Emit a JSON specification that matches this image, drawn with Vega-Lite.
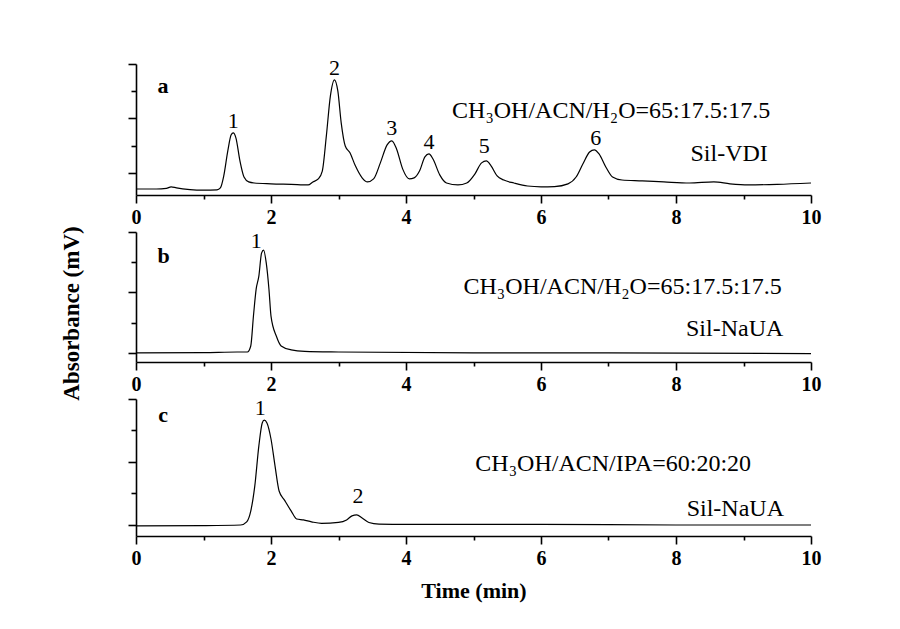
{
  "$schema": "https://vega.github.io/schema/vega-lite/v6.json",
  "background": "white",
  "padding": {"left": 59, "top": 56, "right": 5, "bottom": 5},
  "config": {
    "view": {"stroke": null},
    "font": "Liberation Serif",
    "axis": {
      "grid": false,
      "domainColor": "black",
      "domainWidth": 1.6,
      "tickColor": "black",
      "tickWidth": 1.6,
      "labelFlush": false,
      "labelFont": "Liberation Serif",
      "labelFontWeight": "bold",
      "labelFontSize": 20,
      "labelColor": "black",
      "titleFont": "Liberation Serif",
      "titleFontWeight": "bold",
      "titleFontSize": 22,
      "titleColor": "black"
    }
  },
  "datasets": {
    "a": [
      {"t":0.0,"v":-0.59},{"t":0.3,"v":-0.59},{"t":0.45,"v":-0.57},{"t":0.52,"v":-0.51},{"t":0.6,"v":-0.55},{"t":0.8,"v":-0.61},{"t":1.0,"v":-0.63},{"t":1.2,"v":-0.62},{"t":1.25,"v":-0.55},{"t":1.3,"v":-0.11},{"t":1.36,"v":0.81},{"t":1.41,"v":1.4},{"t":1.44,"v":1.47},{"t":1.48,"v":1.29},{"t":1.54,"v":0.44},{"t":1.6,"v":-0.15},{"t":1.67,"v":-0.33},{"t":1.75,"v":-0.37},{"t":2.0,"v":-0.4},{"t":2.3,"v":-0.42},{"t":2.55,"v":-0.44},{"t":2.62,"v":-0.33},{"t":2.7,"v":-0.22},{"t":2.76,"v":0.07},{"t":2.82,"v":1.36},{"t":2.88,"v":2.83},{"t":2.94,"v":3.42},{"t":2.99,"v":3.01},{"t":3.04,"v":1.84},{"t":3.1,"v":0.99},{"t":3.17,"v":0.74},{"t":3.25,"v":0.26},{"t":3.35,"v":-0.18},{"t":3.43,"v":-0.33},{"t":3.52,"v":-0.22},{"t":3.62,"v":0.37},{"t":3.72,"v":1.03},{"t":3.79,"v":1.18},{"t":3.86,"v":0.88},{"t":3.95,"v":0.15},{"t":4.05,"v":-0.22},{"t":4.12,"v":-0.18},{"t":4.2,"v":0.07},{"t":4.28,"v":0.59},{"t":4.34,"v":0.7},{"t":4.4,"v":0.51},{"t":4.5,"v":-0.07},{"t":4.6,"v":-0.37},{"t":4.77,"v":-0.44},{"t":4.9,"v":-0.37},{"t":5.02,"v":-0.04},{"t":5.12,"v":0.37},{"t":5.19,"v":0.44},{"t":5.26,"v":0.26},{"t":5.35,"v":-0.11},{"t":5.45,"v":-0.26},{"t":5.6,"v":-0.37},{"t":5.8,"v":-0.48},{"t":6.0,"v":-0.51},{"t":6.2,"v":-0.5},{"t":6.4,"v":-0.4},{"t":6.52,"v":-0.15},{"t":6.62,"v":0.33},{"t":6.72,"v":0.77},{"t":6.79,"v":0.85},{"t":6.86,"v":0.7},{"t":6.96,"v":0.22},{"t":7.06,"v":-0.15},{"t":7.2,"v":-0.26},{"t":7.5,"v":-0.29},{"t":7.82,"v":-0.33},{"t":8.2,"v":-0.37},{"t":8.56,"v":-0.33},{"t":8.8,"v":-0.4},{"t":9.07,"v":-0.44},{"t":9.5,"v":-0.42},{"t":10.0,"v":-0.37}
    ],
    "b": [
      {"t":0.0,"v":0.0},{"t":1.0,"v":0.01},{"t":1.5,"v":0.03},{"t":1.65,"v":0.03},{"t":1.7,"v":0.23},{"t":1.74,"v":1.22},{"t":1.78,"v":2.11},{"t":1.82,"v":2.54},{"t":1.86,"v":3.3},{"t":1.89,"v":3.4},{"t":1.93,"v":2.97},{"t":1.97,"v":2.1},{"t":2.0,"v":1.22},{"t":2.08,"v":0.55},{"t":2.15,"v":0.23},{"t":2.3,"v":0.1},{"t":2.5,"v":0.05},{"t":3.0,"v":0.03},{"t":5.0,"v":0.0},{"t":7.0,"v":0.0},{"t":10.0,"v":-0.02}
    ],
    "c": [
      {"t":0.0,"v":-0.03},{"t":1.0,"v":-0.02},{"t":1.55,"v":0.0},{"t":1.64,"v":0.1},{"t":1.7,"v":0.44},{"t":1.76,"v":1.24},{"t":1.82,"v":2.51},{"t":1.87,"v":3.24},{"t":1.9,"v":3.33},{"t":1.94,"v":3.24},{"t":2.0,"v":2.73},{"t":2.06,"v":1.87},{"t":2.12,"v":1.08},{"t":2.2,"v":0.79},{"t":2.3,"v":0.44},{"t":2.38,"v":0.19},{"t":2.48,"v":0.16},{"t":2.6,"v":0.1},{"t":2.75,"v":0.05},{"t":3.0,"v":0.08},{"t":3.12,"v":0.16},{"t":3.2,"v":0.29},{"t":3.27,"v":0.32},{"t":3.35,"v":0.22},{"t":3.45,"v":0.08},{"t":3.6,"v":0.03},{"t":4.0,"v":0.02},{"t":6.0,"v":0.02},{"t":8.0,"v":0.0},{"t":10.0,"v":0.0}
    ],
    "ann": [
      {"panel":"a","kind":"letter","t":0.4,"v":3.2,"label":"a"},
      {"panel":"a","kind":"peak","t":1.44,"v":1.91,"label":"1"},
      {"panel":"a","kind":"peak","t":2.94,"v":3.86,"label":"2"},
      {"panel":"a","kind":"peak","t":3.79,"v":1.65,"label":"3"},
      {"panel":"a","kind":"peak","t":4.34,"v":1.14,"label":"4"},
      {"panel":"a","kind":"peak","t":5.16,"v":0.99,"label":"5"},
      {"panel":"a","kind":"peak","t":6.81,"v":1.29,"label":"6"},
      {"panel":"a","kind":"phase","t":7.04,"v":2.03,"label":"CH₃OH/ACN/H₂O=65:17.5:17.5"},
      {"panel":"a","kind":"column","t":9.36,"v":0.44,"label":"Sil-VDI"},
      {"panel":"b","kind":"letter","t":0.41,"v":3.2,"label":"b"},
      {"panel":"b","kind":"peak","t":1.78,"v":3.7,"label":"1"},
      {"panel":"b","kind":"phase","t":7.21,"v":1.95,"label":"CH₃OH/ACN/H₂O=65:17.5:17.5"},
      {"panel":"b","kind":"column","t":9.59,"v":0.56,"label":"Sil-NaUA"},
      {"panel":"c","kind":"letter","t":0.4,"v":3.49,"label":"c"},
      {"panel":"c","kind":"peak","t":1.84,"v":3.71,"label":"1"},
      {"panel":"c","kind":"peak","t":3.29,"v":0.92,"label":"2"},
      {"panel":"c","kind":"phase","t":7.07,"v":1.71,"label":"CH₃OH/ACN/IPA=60:20:20"},
      {"panel":"c","kind":"column","t":9.6,"v":0.29,"label":"Sil-NaUA"}
    ]
  },
  "vconcat": [
    {
      "width": 675, "height": 131,
      "encoding": {
        "x": {"field":"t","type":"quantitative","scale":{"domain":[0,10]},
          "axis":{"title":null,"values":[0,1,2,3,4,5,6,7,8,9,10],"labelExpr":"datum.value % 2 === 0 ? datum.label : ''","labelPadding":4,
            "tickSize":{"condition":{"test":"datum.value % 2 !== 0","value":4},"value":8}}},
        "y": {"field":"v","type":"quantitative","scale":{"domain":[-0.81,4],"nice":false},
          "axis":{"title":null,"labels":false,"values":[0,1,2,3,4],
            "tickSize":{"condition":{"test":"datum.value % 2 !== 0","value":5},"value":8}}}
      },
      "layer": [
        {"data":{"name":"a"},"mark":{"type":"line","color":"black","strokeWidth":1.2,"interpolate":"monotone"}},
        {"data":{"name":"ann"},"transform":[{"filter":"datum.panel === 'a' && datum.kind === 'letter'"}],"mark":{"type":"text","font":"Liberation Serif","fontSize":22,"fontWeight":"bold","baseline":"middle","align":"center","color":"black"},"encoding":{"text":{"field":"label"}}},
        {"data":{"name":"ann"},"transform":[{"filter":"datum.panel === 'a' && datum.kind === 'peak'"}],"mark":{"type":"text","font":"Liberation Serif","fontSize":22,"baseline":"middle","align":"center","color":"black"},"encoding":{"text":{"field":"label"}}},
        {"data":{"name":"ann"},"transform":[{"filter":"datum.panel === 'a' && datum.kind === 'phase'"}],"mark":{"type":"text","font":"Liberation Serif","fontSize":24,"baseline":"alphabetic","align":"center","color":"black"},"encoding":{"text":{"field":"label"}}},
        {"data":{"name":"ann"},"transform":[{"filter":"datum.panel === 'a' && datum.kind === 'column'"}],"mark":{"type":"text","font":"Liberation Serif","fontSize":24,"baseline":"alphabetic","align":"right","color":"black"},"encoding":{"text":{"field":"label"}}}
      ]
    },
    {
      "width": 675, "height": 130,
      "encoding": {
        "x": {"field":"t","type":"quantitative","scale":{"domain":[0,10]},
          "axis":{"title":null,"values":[0,1,2,3,4,5,6,7,8,9,10],"labelExpr":"datum.value % 2 === 0 ? datum.label : ''","labelPadding":4,
            "tickSize":{"condition":{"test":"datum.value % 2 !== 0","value":4},"value":8}}},
        "y": {"field":"v","type":"quantitative","scale":{"domain":[-0.3,4],"nice":false},
          "axis":{"title":"Absorbance (mV)","labels":false,"values":[0,1,2,3,4],"titleX":-65,"titleY":81,"titleAngle":-90,"titleAlign":"center","titleBaseline":"middle","titleFontSize":23,
            "tickSize":{"condition":{"test":"datum.value % 2 !== 0","value":5},"value":8}}}
      },
      "layer": [
        {"data":{"name":"b"},"mark":{"type":"line","color":"black","strokeWidth":1.2,"interpolate":"monotone"}},
        {"data":{"name":"ann"},"transform":[{"filter":"datum.panel === 'b' && datum.kind === 'letter'"}],"mark":{"type":"text","font":"Liberation Serif","fontSize":22,"fontWeight":"bold","baseline":"middle","align":"center","color":"black"},"encoding":{"text":{"field":"label"}}},
        {"data":{"name":"ann"},"transform":[{"filter":"datum.panel === 'b' && datum.kind === 'peak'"}],"mark":{"type":"text","font":"Liberation Serif","fontSize":22,"baseline":"middle","align":"center","color":"black"},"encoding":{"text":{"field":"label"}}},
        {"data":{"name":"ann"},"transform":[{"filter":"datum.panel === 'b' && datum.kind === 'phase'"}],"mark":{"type":"text","font":"Liberation Serif","fontSize":24,"baseline":"alphabetic","align":"center","color":"black"},"encoding":{"text":{"field":"label"}}},
        {"data":{"name":"ann"},"transform":[{"filter":"datum.panel === 'b' && datum.kind === 'column'"}],"mark":{"type":"text","font":"Liberation Serif","fontSize":24,"baseline":"alphabetic","align":"right","color":"black"},"encoding":{"text":{"field":"label"}}}
      ]
    },
    {
      "width": 675, "height": 137,
      "encoding": {
        "x": {"field":"t","type":"quantitative","scale":{"domain":[0,10]},
          "axis":{"title":"Time (min)","titlePadding":12,"values":[0,1,2,3,4,5,6,7,8,9,10],"labelExpr":"datum.value % 2 === 0 ? datum.label : ''","labelPadding":4,
            "tickSize":{"condition":{"test":"datum.value % 2 !== 0","value":4},"value":8}}},
        "y": {"field":"v","type":"quantitative","scale":{"domain":[-0.35,4],"nice":false},
          "axis":{"title":null,"labels":false,"values":[0,1,2,3,4],
            "tickSize":{"condition":{"test":"datum.value % 2 !== 0","value":5},"value":8}}}
      },
      "layer": [
        {"data":{"name":"c"},"mark":{"type":"line","color":"black","strokeWidth":1.2,"interpolate":"monotone"}},
        {"data":{"name":"ann"},"transform":[{"filter":"datum.panel === 'c' && datum.kind === 'letter'"}],"mark":{"type":"text","font":"Liberation Serif","fontSize":22,"fontWeight":"bold","baseline":"middle","align":"center","color":"black"},"encoding":{"text":{"field":"label"}}},
        {"data":{"name":"ann"},"transform":[{"filter":"datum.panel === 'c' && datum.kind === 'peak'"}],"mark":{"type":"text","font":"Liberation Serif","fontSize":22,"baseline":"middle","align":"center","color":"black"},"encoding":{"text":{"field":"label"}}},
        {"data":{"name":"ann"},"transform":[{"filter":"datum.panel === 'c' && datum.kind === 'phase'"}],"mark":{"type":"text","font":"Liberation Serif","fontSize":24,"baseline":"alphabetic","align":"center","color":"black"},"encoding":{"text":{"field":"label"}}},
        {"data":{"name":"ann"},"transform":[{"filter":"datum.panel === 'c' && datum.kind === 'column'"}],"mark":{"type":"text","font":"Liberation Serif","fontSize":24,"baseline":"alphabetic","align":"right","color":"black"},"encoding":{"text":{"field":"label"}}}
      ]
    }
  ],
  "spacing": 37,
  "bounds": "flush"
}
